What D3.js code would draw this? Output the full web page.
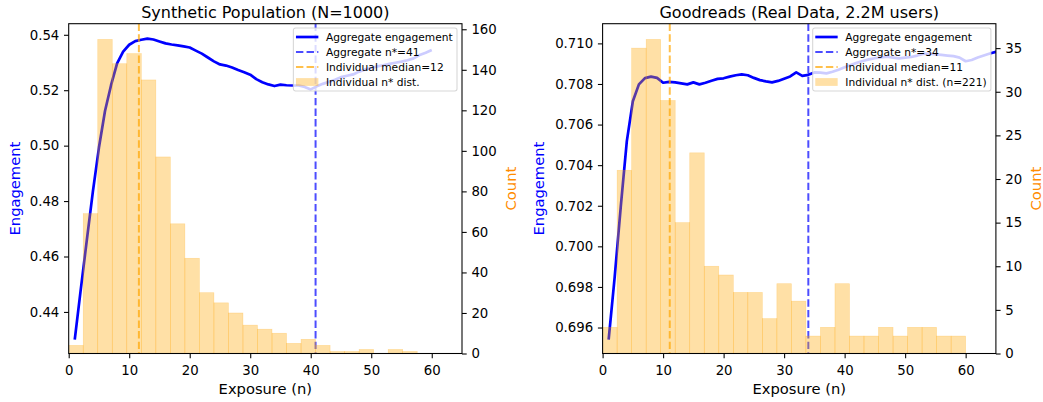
<!DOCTYPE html>
<html>
<head>
<meta charset="utf-8">
<script src="https://cdn.jsdelivr.net/npm/d3@7"></script>
<style>
    body { margin: 0; background: #fff; }
    svg text { font-family: "DejaVu Sans", sans-serif; fill: #000; }
</style>
</head>
<body>
<div id="chart"></div>
<script>
// histogram bin edges (shared by both panels)
const binEdges = [0, 2.4, 4.8, 7.2, 9.6, 12, 14.4, 16.8, 19.2, 21.6, 24, 26.4, 28.8, 31.2, 33.6, 36, 38.4, 40.8, 43.2, 45.6, 48, 50.4, 52.8, 55.2, 57.6, 60];
const xTicks = [0, 10, 20, 30, 40, 50, 60];

// Synthetic population
const synthExposure = [1, 2, 3, 4, 5, 6, 7, 8, 9, 10, 11, 12, 13, 14, 15, 16, 17, 18, 19, 20,
    21, 22, 23, 24, 25, 26, 27, 28, 29, 30, 31, 32, 33, 34, 35, 36, 37, 38, 39, 40,
    41, 42, 43, 44, 45, 46, 47, 48, 49, 50, 51, 52, 53, 54, 55, 56, 57, 58, 59, 60];
const synthEngagement = [0.4300, 0.4482, 0.4660, 0.4835, 0.4993, 0.5125, 0.5218, 0.5297, 0.5339, 0.5364,
    0.5377, 0.5382, 0.5386, 0.5383, 0.5376, 0.5369, 0.5365, 0.5362, 0.5358, 0.5354,
    0.5343, 0.5332, 0.5318, 0.5304, 0.5293, 0.5289, 0.5282, 0.5273, 0.5265, 0.5256,
    0.5240, 0.5229, 0.5221, 0.5215, 0.5220, 0.5218, 0.5217, 0.5217, 0.5212, 0.5203,
    0.5214, 0.5223, 0.5230, 0.5238, 0.5247, 0.5252, 0.5257, 0.5267, 0.5275, 0.5280,
    0.5286, 0.5290, 0.5295, 0.5299, 0.5303, 0.5308, 0.5315, 0.5327, 0.5335, 0.5345];
const synthCounts = [4, 69, 155, 143, 148, 135, 97, 64, 47, 30, 25, 20, 14, 12, 10, 5, 7, 4, 1, 1, 2, 0, 2, 1, 0];
const synthEngTicks = [0.44, 0.46, 0.48, 0.50, 0.52, 0.54];
const synthCountTicks = [0, 20, 40, 60, 80, 100, 120, 140, 160];
const synthAggN = 40.8;
const synthMedian = 11.6;

// Goodreads
const goodExposure = [1, 2, 3, 4, 5, 6, 7, 8, 9, 10, 11, 12, 13, 14, 15, 16, 17, 18, 19, 20,
    21, 22, 23, 24, 25, 26, 27, 28, 29, 30, 31, 32, 33, 34, 35, 36, 37, 38, 39, 40,
    41, 42, 43, 44, 45, 46, 47, 48, 49, 50, 51, 52, 53, 54, 55, 56, 57, 58, 59, 60,
    61, 62, 63, 64, 65, 66];
const goodEngagement = [0.69540, 0.69850, 0.70195, 0.70517, 0.70715, 0.70798, 0.70829, 0.70836, 0.70830, 0.70806,
    0.70810, 0.70808, 0.70803, 0.70798, 0.70808, 0.70798, 0.70806, 0.70816, 0.70825, 0.70828,
    0.70836, 0.70843, 0.70847, 0.70843, 0.70830, 0.70819, 0.70813, 0.70808, 0.70815, 0.70826,
    0.70837, 0.70857, 0.70840, 0.70845, 0.70857, 0.70856, 0.70852, 0.70860, 0.70870, 0.70882,
    0.70893, 0.70904, 0.70913, 0.70921, 0.70927, 0.70931, 0.70934, 0.70930, 0.70926, 0.70930,
    0.70933, 0.70940, 0.70948, 0.70950, 0.70946, 0.70943, 0.70940, 0.70937, 0.70930, 0.70912,
    0.70918, 0.70930, 0.70940, 0.70950, 0.70958, 0.70965];
const goodCounts = [3, 21, 35, 36, 29, 15, 23, 10, 9, 7, 7, 4, 8, 6, 2, 3, 8, 2, 2, 3, 2, 3, 3, 2, 2];
const goodEngTicks = [0.696, 0.698, 0.700, 0.702, 0.704, 0.706, 0.708, 0.710];
const goodCountTicks = [0, 5, 10, 15, 20, 25, 30, 35];
const goodAggN = 34;
const goodMedian = 11.1;

class DualAxisChart {
    constructor(svg, config) {
        this.svg = svg;
        this.config = config;
        this.margin = { top: 23.7, left: config.left };
        this.width = 393.3;
        this.height = 329.8;
        this.fontSize = 10.67; // legend font
        this.initChart();
        this.renderChart();
    }

    initChart() {
        const c = this.config;
        this.g = this.svg.append("g")
            .attr("transform", `translate(${this.margin.left},${this.margin.top})`);

        this.x = d3.scaleLinear().domain([0, 65]).range([0, this.width]);
        this.y = d3.scaleLinear().domain(c.engDomain).range([this.height, 0]);
        this.yCount = d3.scaleLinear()
            .domain([0, d3.max(c.counts) * 1.05])
            .range([this.height, 0]);

        this.g.append("defs").append("clipPath")
            .attr("id", c.id + "-clip")
            .append("rect")
            .attr("width", this.width)
            .attr("height", this.height);

        this.plot = this.g.append("g").attr("clip-path", `url(#${c.id}-clip)`);
    }

    renderChart() {
        const c = this.config;
        const data = c.exposure.map((n, i) => ({ n: n, v: c.engagement[i] }));

        // engagement line (primary axis, drawn under the histogram)
        this.plot.append("path")
            .datum(data)
            .attr("fill", "none")
            .attr("stroke", "blue")
            .attr("stroke-width", 2.7)
            .attr("stroke-linejoin", "round")
            .attr("stroke-linecap", "butt")
            .attr("d", d3.line().x(d => this.x(d.n)).y(d => this.y(d.v)));

        // vertical markers
        [[c.aggN, "blue"], [c.median, "orange"]].forEach(([val, col]) => {
            this.plot.append("line")
                .attr("x1", this.x(val)).attr("x2", this.x(val))
                .attr("y1", 0).attr("y2", this.height)
                .attr("stroke", col)
                .attr("stroke-opacity", 0.7)
                .attr("stroke-width", 2)
                .attr("stroke-dasharray", "7.4,3.2");
        });

        // histogram on the twin axis
        const bins = c.counts.map((k, i) => ({ x0: binEdges[i], x1: binEdges[i + 1], k: k }));
        this.plot.selectAll(".bar")
            .data(bins.filter(d => d.k > 0))
            .enter().append("rect")
            .attr("class", "bar")
            .attr("x", d => this.x(d.x0))
            .attr("width", d => this.x(d.x1) - this.x(d.x0))
            .attr("y", d => this.yCount(d.k))
            .attr("height", d => this.height - this.yCount(d.k))
            .attr("fill", "orange")
            .attr("fill-opacity", 0.35)
            .attr("stroke", "orange")
            .attr("stroke-opacity", 0.3)
            .attr("stroke-width", 0.6);

        this.renderAxes();
        this.renderLegend();
    }

    renderAxes() {
        const c = this.config;
        const tick = 4.7;

        const styleAxis = sel => {
            sel.select(".domain").remove();
            sel.selectAll("line").attr("stroke", "#000").attr("stroke-width", 1.07);
            sel.selectAll("text").attr("font-size", 13.3).attr("font-family", "DejaVu Sans");
        };

        const xAxis = this.g.append("g")
            .attr("transform", `translate(0,${this.height})`)
            .call(d3.axisBottom(this.x).tickValues(xTicks).tickSize(tick).tickPadding(tick).tickFormat(d3.format("d")));
        styleAxis(xAxis);
        xAxis.selectAll("text").attr("dy", "0.93em");

        const yAxis = this.g.append("g")
            .call(d3.axisLeft(this.y).tickValues(c.engTicks).tickSize(tick).tickPadding(tick).tickFormat(d3.format(c.engFormat)));
        styleAxis(yAxis);

        const cAxis = this.g.append("g")
            .attr("transform", `translate(${this.width},0)`)
            .call(d3.axisRight(this.yCount).tickValues(c.countTicks).tickSize(tick).tickPadding(tick).tickFormat(d3.format("d")));
        styleAxis(cAxis);

        // frame
        this.g.append("rect")
            .attr("width", this.width)
            .attr("height", this.height)
            .attr("fill", "none")
            .attr("stroke", "#000")
            .attr("stroke-width", 1.07);

        // labels
        this.g.append("text")
            .attr("x", this.width / 2).attr("y", -6.2)
            .attr("text-anchor", "middle")
            .attr("font-size", 16)
            .text(c.title);

        this.g.append("text")
            .attr("x", this.width / 2).attr("y", this.height + 40.5)
            .attr("text-anchor", "middle")
            .attr("font-size", 14.7)
            .text("Exposure (n)");

        this.g.append("text")
            .attr("transform", `translate(${c.engLabelX},${this.height / 2}) rotate(-90)`)
            .attr("text-anchor", "middle")
            .attr("font-size", 14.7)
            .style("fill", "blue")
            .text("Engagement");

        this.g.append("text")
            .attr("transform", `translate(${c.countLabelX},${this.height / 2}) rotate(-90)`)
            .attr("text-anchor", "middle")
            .attr("font-size", 14.7)
            .style("fill", "darkorange")
            .text("Count");
    }

    renderLegend() {
        const c = this.config;
        const fs = this.fontSize;
        const rowH = 15;
        const items = [
            { kind: "line", color: "blue", dash: null, op: 1, w: 2.7, label: "Aggregate engagement" },
            { kind: "line", color: "blue", dash: "7.4,3.2", op: 0.7, w: 2, label: `Aggregate n*=${Math.round(c.aggN)}` },
            { kind: "line", color: "orange", dash: "7.4,3.2", op: 0.7, w: 2, label: `Individual median=${Math.round(c.median)}` },
            { kind: "patch", label: c.histLabel }
        ];

        const leg = this.g.append("g");
        const box = leg.append("rect");
        const textX = 32.6;
        let maxW = 0;
        items.forEach((it, i) => {
            const cy = 9 + i * rowH;
            if (it.kind === "line") {
                leg.append("line")
                    .attr("x1", 2.6).attr("x2", 25)
                    .attr("y1", cy).attr("y2", cy)
                    .attr("stroke", it.color)
                    .attr("stroke-opacity", it.op)
                    .attr("stroke-width", it.w)
                    .attr("stroke-dasharray", it.dash);
            } else {
                leg.append("rect")
                    .attr("x", 2.6).attr("y", cy - 3.9)
                    .attr("width", 22.4).attr("height", 7.8)
                    .attr("fill", "orange")
                    .attr("fill-opacity", 0.35);
            }
            const t = leg.append("text")
                .attr("x", textX).attr("y", cy)
                .attr("dy", "0.36em")
                .attr("font-size", fs)
                .text(it.label);
            maxW = Math.max(maxW, t.node().getComputedTextLength());
        });

        const legW = textX + maxW + 4.3;
        const legH = 18 + (items.length - 1) * rowH;
        box.attr("width", legW).attr("height", legH)
            .attr("rx", 2.2)
            .attr("fill", "#fff")
            .attr("fill-opacity", 0.8)
            .attr("stroke", "#ccc")
            .attr("stroke-opacity", 0.8)
            .attr("stroke-width", 1.07);
        leg.attr("transform", `translate(${this.width - 5 - legW},4.3)`);
    }
}

const svg = d3.select("#chart").append("svg")
    .attr("width", 1043)
    .attr("height", 402);

new DualAxisChart(svg, {
    id: "synth",
    left: 68.7,
    title: "Synthetic Population (N=1000)",
    exposure: synthExposure,
    engagement: synthEngagement,
    counts: synthCounts,
    engDomain: [0.4250, 0.5440],
    engTicks: synthEngTicks,
    engFormat: ".2f",
    countTicks: synthCountTicks,
    aggN: synthAggN,
    median: synthMedian,
    histLabel: "Individual n* dist.",
    engLabelX: -49,
    countLabelX: 447.5
});

new DualAxisChart(svg, {
    id: "good",
    left: 602.6,
    title: "Goodreads (Real Data, 2.2M users)",
    exposure: goodExposure,
    engagement: goodEngagement,
    counts: goodCounts,
    engDomain: [0.69472, 0.71097],
    engTicks: goodEngTicks,
    engFormat: ".3f",
    countTicks: goodCountTicks,
    aggN: goodAggN,
    median: goodMedian,
    histLabel: "Individual n* dist. (n=221)",
    engLabelX: -58.6,
    countLabelX: 438
});
</script>
</body>
</html>
